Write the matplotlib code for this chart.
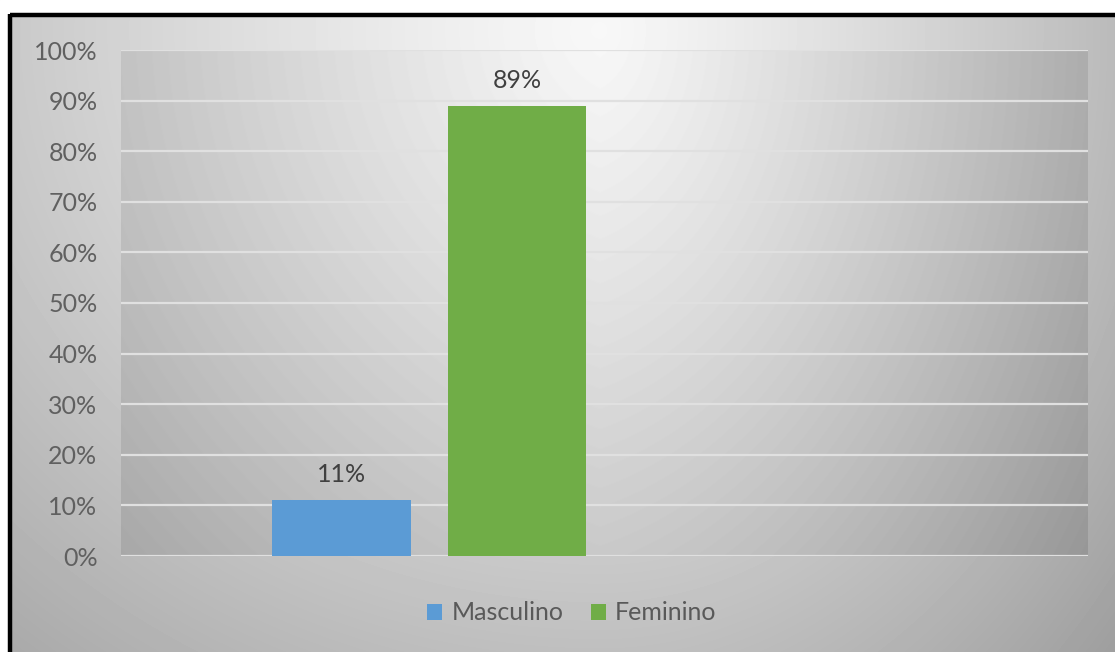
import numpy as np
import matplotlib
matplotlib.use('Agg')
import matplotlib.pyplot as plt
from matplotlib.patches import Rectangle

# Gender distribution
series = ["Masculino", "Feminino"]
shares = [0.11, 0.89]
bar_labels = ["11%", "89%"]
colors = ["#5B9BD5", "#70AD47"]
yticks = [0.0, 0.1, 0.2, 0.3, 0.4, 0.5, 0.6, 0.7, 0.8, 0.9, 1.0]
ytick_labels = ["0%", "10%", "20%", "30%", "40%", "50%", "60%", "70%", "80%", "90%", "100%"]

plt.rcParams['font.family'] = ['Lato', 'DejaVu Sans']

W, H = 1115, 652
fig = plt.figure(figsize=(W / 100, H / 100), dpi=100)
fig.patch.set_facecolor("white")

CX, CY = 600, 30


def shade(xx, yy):
    # elliptical falloff, brighter near the top centre, wider to the left
    sx = np.where(xx < CX, 900.0, 620.0)
    r = np.sqrt(((xx - CX) / sx) ** 2 + ((yy - CY) / 800.0) ** 2)
    return 0.97 - 0.30 * np.clip(r, 0, 1.2) ** 1.2


# chart background
yy, xx = np.mgrid[0:H, 0:W]
bg_ax = fig.add_axes([0, 0, 1, 1])
bg_ax.set_axis_off()
bg_ax.imshow(shade(xx, yy), cmap="gray", vmin=0, vmax=1,
             extent=(0, W, H, 0), aspect="auto")
bg_ax.set_xlim(0, W)
bg_ax.set_ylim(H, 0)
# white margin and black frame on the top and left
bg_ax.add_patch(Rectangle((0, 0), W, 13, color="white", zorder=3))
bg_ax.add_patch(Rectangle((0, 0), 8, H, color="white", zorder=3))
bg_ax.plot([10, W], [15, 15], color="black", lw=3.2, zorder=4, solid_capstyle="butt")
bg_ax.plot([10, 10], [13.5, H], color="black", lw=3.2, zorder=4, solid_capstyle="butt")

# plot area, a little darker towards its sides
x0, x1, ytop, ybot = 121, 1088, 50, 556
ax = fig.add_axes([x0 / W, 1 - ybot / H, (x1 - x0) / W, (ybot - ytop) / H])
py, px = np.mgrid[ytop:ybot, x0:x1]
pa = shade(px, py) - 0.07 * np.clip(np.abs(px - CX) / 500.0, 0, 1)
ax.imshow(pa, cmap="gray", vmin=0, vmax=1, extent=(0, 1, 0, 1), aspect="auto", zorder=0)
ax.set_xlim(0, 1)
ax.set_ylim(0, 1)
for s in ax.spines.values():
    s.set_visible(False)

for y in yticks:
    ax.axhline(y, color="#e0e0e0", lw=1.6, zorder=1)

ax.set_yticks(yticks)
ax.set_yticklabels(ytick_labels, color="#606060", fontsize=18)
ax.tick_params(axis="y", length=0, pad=17)
ax.set_xticks([])

xpos = [0.228, 0.4095]
bw = 0.1437
for x, v, c, lab, name in zip(xpos, shares, colors, bar_labels, series):
    ax.bar(x, v, width=bw, color=c, zorder=2, label=name)
    ax.annotate(lab, (x, v), xytext=(0, 10), textcoords="offset points",
                ha="center", va="bottom", fontsize=18, color="#404040")

leg = fig.legend(loc="center", bbox_to_anchor=(0.513, 1 - 613 / H), ncol=2,
                 frameon=False, fontsize=18, handlelength=0.6, handleheight=0.6,
                 handletextpad=0.36, columnspacing=1.1, labelcolor="#595959")

fig.savefig("out.png", dpi=100)
